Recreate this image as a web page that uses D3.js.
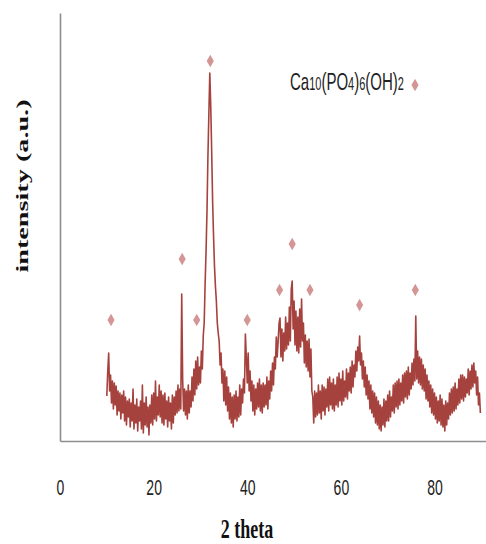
<!DOCTYPE html>
<html>
<head>
<meta charset="utf-8">
<script src="https://cdn.jsdelivr.net/npm/d3@7"></script>
<style>
  body { margin: 0; background: #fff; }
  svg { display: block; }
</style>
</head>
<body>
<div class="chart"></div>
<script>
// 2 theta from 10 to 89.8, step 0.2
var thetaStart = 10;
var thetaStep = 0.2;

// intensity (a.u.), five readings per degree
var intensity = [
   45, 70, 88, 50, 66,    38, 60, 32, 58, 36,    55, 26, 50, 30, 48,    22, 46, 28, 50, 20,   // 10-13
   44, 16, 40, 24, 42,    14, 38, 20, 52, 12,    36, 18, 42, 10, 34,    20, 40, 12, 56,  8,   // 14-17
   38, 16, 44, 14, 34,     6, 36, 18, 46, 16,    48, 22, 60, 20, 44,    26, 56, 24, 50, 18,   // 18-21
   46, 16, 48, 22, 40,    14, 44, 20, 38, 12,    46, 18, 44, 26, 50,    28, 56, 30, 52, 32,   // 22-25
  147, 62, 30, 52, 26,    50, 22, 56, 28, 50,    34, 64, 40, 72, 46,    80, 52, 84, 56, 74,   // 26-29
   58, 90, 72,105,118,   157,190,230,285,327,   368,335,290,240,205,   175,155,140,118,108,   // 30-33
  100, 76, 88, 58, 72,    40, 70, 36, 64, 30,    54, 22, 48, 18, 44,    14, 46, 22, 50, 20,   // 34-37
   44, 24, 56, 26, 52,    38, 62, 48,107, 84,    58, 88, 50, 70, 40,    60, 30, 56, 26, 52,   // 38-41
   32, 58, 34, 62, 30,    56, 28, 58, 34, 56,    36, 64, 32, 60, 42,    70, 50, 78, 56, 84,   // 42-45
   72,104, 84,100,118,   123, 84,112, 80,108,    90,124, 92,118, 96,   134,100,152,160,112,   // 46-49
  140, 96,130, 90,124,    88,132, 94,142,100,   118, 78,106, 74,100,    70,102, 64, 92, 50,   // 50-53
   44, 18, 50, 24, 48,    26, 56, 28, 50, 22,    56, 30, 54, 26, 52,    34, 62, 30, 64, 36,   // 54-57
   58, 32, 62, 30, 56,    36, 64, 34, 68, 40,    62, 36, 70, 40, 60,    44, 72, 42, 68, 50,   // 58-61
   74, 48, 80, 54, 76,    64, 90, 70, 94, 80,   105, 76, 88, 62, 80,    54, 74, 46, 66, 42,   // 62-65
   60, 32, 56, 28, 50,    24, 48, 18, 44, 16,    40, 12, 36, 10, 34,    16, 42, 14, 40, 20,   // 66-69
   46, 20, 50, 24, 44,    30, 56, 28, 58, 34,    60, 32, 62, 36, 58,    40, 66, 38, 68, 44,   // 70-73
   70, 42, 74, 46, 68,    52, 78, 56, 82, 60,   125, 62, 90, 58, 84,    56, 82, 52, 76, 50,   // 74-77
   72, 42, 66, 40, 60,    34, 56, 28, 52, 26,    48, 22, 44, 18, 40,    20, 46, 16, 42, 14,   // 78-81
   36, 10, 40, 16, 38,    22, 48, 26, 52, 28,    54, 30, 58, 32, 52,    36, 62, 38, 66, 42,   // 82-85
   66, 40, 64, 44, 62,    48, 72, 46, 70, 52,    76, 54, 78, 58, 70,    46, 64, 36, 48, 28    // 86-89
];

// hydroxyapatite reflections marked with diamonds
var peakTheta = [10.9, 26.1, 29.2, 32.1, 40.0, 46.9, 49.6, 53.4, 64.0, 75.9];
var peakMark  = [121, 182, 121, 380, 121, 151, 197, 151, 136, 151];

var xTicks = [0, 20, 40, 60, 80];

var svgWidth = 486;
var svgHeight = 544;

var margin = { top: 13, right: 0, bottom: 103, left: 60 };

var width = svgWidth - margin.left - margin.right;
var height = svgHeight - margin.top - margin.bottom;

var lineColor = "#a6423d";
var markColor = "#d49595";
var axisColor = "#8e8e8e";

var svg = d3.select(".chart")
  .append("svg")
  .attr("width", svgWidth)
  .attr("height", svgHeight);

var chartGroup = svg.append("g")
  .attr("transform", `translate(${margin.left}, ${margin.top})`);

var data = intensity.map((v, i) => ({ theta: thetaStart + i * thetaStep, value: v }));
var peaks = peakTheta.map((t, i) => ({ theta: t, value: peakMark[i] }));

var xLinearScale = d3.scaleLinear()
  .domain([0, 91])
  .range([0, width]);

var yLinearScale = d3.scaleLinear()
  .domain([0, 428])
  .range([height, 0]);

// pattern
var line = d3.line()
  .x(d => xLinearScale(d.theta))
  .y(d => yLinearScale(d.value));

chartGroup.append("path")
  .datum(data)
  .attr("d", line)
  .attr("fill", "none")
  .attr("stroke", lineColor)
  .attr("stroke-width", 1.6)
  .attr("stroke-linejoin", "round");

// diamond markers
var diamond = d3.symbol().type(d3.symbolDiamond).size(44);

chartGroup.selectAll(".peak")
  .data(peaks)
  .enter()
  .append("path")
  .attr("class", "peak")
  .attr("d", diamond)
  .attr("transform", d => `translate(${xLinearScale(d.theta)}, ${yLinearScale(d.value)})`)
  .attr("fill", markColor);

// axes, no tick marks
var leftAxis = d3.axisLeft(yLinearScale).tickValues([]).tickSizeOuter(0);
var bottomAxis = d3.axisBottom(xLinearScale).tickValues(xTicks).tickSize(0).tickSizeOuter(0);

var yAxis = chartGroup.append("g").call(leftAxis);
var xAxis = chartGroup.append("g")
  .attr("transform", `translate(0, ${height})`)
  .call(bottomAxis);

chartGroup.selectAll(".domain")
  .attr("stroke", axisColor)
  .attr("stroke-width", 1.6);

xAxis.selectAll("text")
  .attr("y", 0)
  .attr("dy", 0)
  .attr("transform", "translate(0, 54) scale(1, 1.6)")
  .style("font-family", "'Liberation Sans', Arial, sans-serif")
  .style("font-size", "14px")
  .attr("fill", "#222");

// axis titles
svg.append("text")
  .attr("transform", "translate(247, 538) scale(1, 1.5)")
  .attr("text-anchor", "middle")
  .style("font-family", "'Liberation Serif', 'Times New Roman', serif")
  .style("font-weight", "bold")
  .style("font-size", "18px")
  .attr("fill", "#111")
  .text("2 theta");

svg.append("text")
  .attr("transform", "translate(28, 186) rotate(-90) scale(1.66, 1)")
  .attr("text-anchor", "middle")
  .style("font-family", "'Liberation Serif', 'Times New Roman', serif")
  .style("font-weight", "bold")
  .style("font-size", "17px")
  .attr("fill", "#111")
  .text("intensity (a.u.)");

// legend
var legend = svg.append("g").attr("transform", "translate(290, 90)");

var legendText = legend.append("text")
  .attr("transform", "scale(1, 1.6)")
  .style("font-family", "'Liberation Sans Narrow', 'Liberation Sans', sans-serif")
  .style("font-size", "15px")
  .attr("fill", "#222");

[["Ca", false], ["10", true], ["(PO", false], ["4", true], [")", false], ["6", true],
 ["(OH)", false], ["2", true]].forEach(function(part) {
  legendText.append("tspan")
    .style("font-size", part[1] ? "11px" : "15px")
    .text(part[0]);
});

legend.append("path")
  .attr("d", diamond)
  .attr("transform", "translate(125, -5)")
  .attr("fill", markColor);
</script>
</body>
</html>
